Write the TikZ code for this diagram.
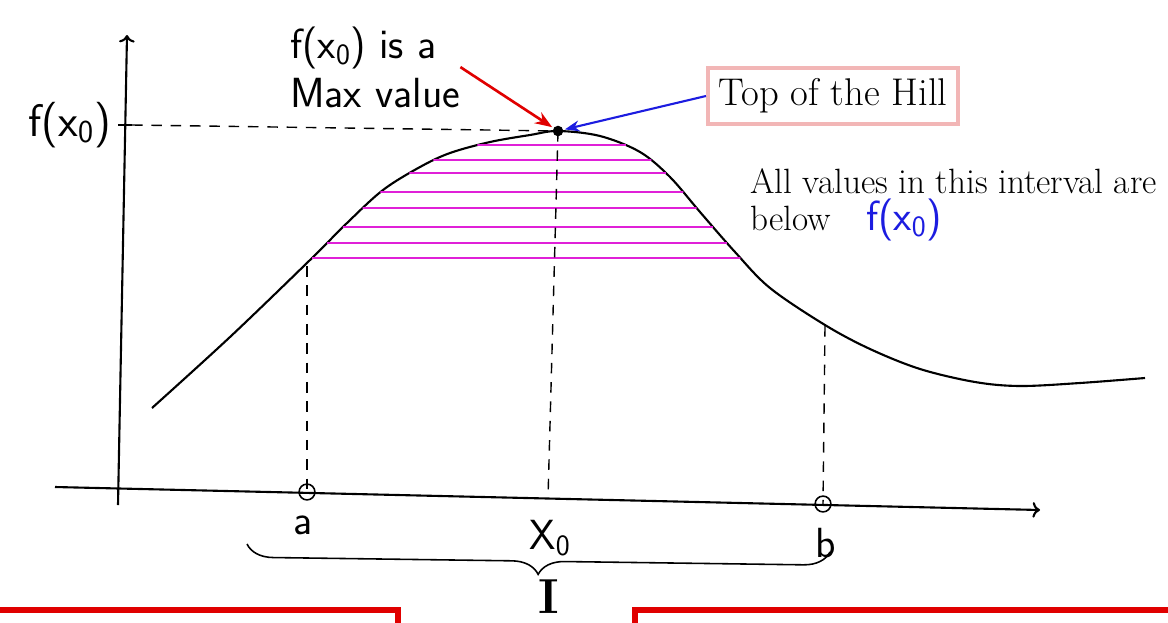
\documentclass[tikz,border=0pt]{standalone}
\usepackage{amsmath}
\usepackage{tikz}
\usepackage{xcolor}
\usetikzlibrary{arrows.meta, positioning, calc, intersections, decorations.pathreplacing}
\definecolor{HillMagenta}{HTML}{E020D8}
\definecolor{HillPink}{HTML}{F2B6B6}
\definecolor{HillRed}{HTML}{E00000}
\definecolor{HillBlue}{HTML}{1C1CE0}

\begin{document}
\begin{tikzpicture}[x=0.02cm, y=-0.02cm,
  curve/.style={line width=1.2pt},
  guide/.style={line width=0.8pt, dash pattern=on 6pt off 5pt},
  hatch/.style={HillMagenta, line width=1.1pt},
  hand/.style={font=\fontsize{20}{24}\selectfont\sffamily}]
\useasboundingbox (0,0) rectangle (1168,622);
\clip (0,0) rectangle (1168,622);
% Axes
\draw[->, line width=1.2pt] (118,505) -- (127,35);
\draw[->, line width=1.2pt] (55,487) -- (1040,510);
\node[hand, font=\fontsize{26}{30}\selectfont\sffamily, left] (fx) at (117,125) {f(x\textsubscript{0})};
% The hill
\coordinate (top) at (558,131);
\draw[curve, name path=hill] plot[smooth, tension=0.55] coordinates {
  (152,408) (230,337) (310,260) (347,223) (383,190) (420,167) (450,153)
  (490,142) (530,135) (558,131) (600,136) (640,152) (670,177) (700,212)
  (735,252) (770,288) (825,325) (870,349) (920,369) (975,382)
  (1020,386) (1080,383) (1145,378)};
% Hatching under f(x0)
\foreach \h in {145,160,173,192,208,227,243,258} {
  \path[name path=hl] (200,\h) -- (900,\h);
  \draw[hatch, name intersections={of=hill and hl, by={hl1,hl2}}] (hl1) -- (hl2);
}
% Guides
\draw[line width=0.9pt] (118,125) -- (132,125);
\draw[guide] (132,125) -- (top);
\coordinate (pa) at (307,492);
\coordinate (px) at (548,498);
\coordinate (pb) at (823,504);
\draw[guide] (307,266) -- (pa);
\draw[guide] (top) -- (px);
\draw[guide] (825,326) -- (pb);
\fill (top) circle (3pt);
\draw[line width=0.9pt] (pa) circle (4.5pt);
\draw[line width=0.9pt] (pb) circle (4.5pt);
% Points on the axis
\node[hand, font=\fontsize{24}{28}\selectfont\sffamily] (lbla) at (303,525) {a};
\node[hand, font=\fontsize{24}{28}\selectfont\sffamily] (lblx) at (550,538) {X\textsubscript{0}};
\node[hand, font=\fontsize{24}{28}\selectfont\sffamily] (lblb) at (826,543) {b};
% Interval brace
\coordinate (bl) at (247,544);
\coordinate (br) at (830,552);
\draw[decorate, decoration={brace, amplitude=15pt, mirror}, line width=0.9pt] (bl) -- (br);
\node[font=\fontsize{28}{28}\selectfont\bfseries, anchor=south, inner sep=1pt] (ivl) at (549,616) {I};
% Bottom boxes
\draw[HillRed, line width=3.5pt] (-5,610) -- (398,610) -- (398,640);
\draw[HillRed, line width=3.5pt] (635,640) -- (635,610) -- (1180,610);
% Annotations
\node[draw=HillPink, line width=2.5pt, inner sep=6pt, font=\fontsize{22}{26}\selectfont] (hill) at (833,96) {Top of the Hill};
\draw[HillBlue, line width=1.2pt, -{Stealth}, shorten >=4pt] (hill.west) -- (top);
\node[hand, font=\fontsize{24}{28}\selectfont\sffamily, align=left, anchor=south west, inner sep=0pt] (maxv) at (290,108) {f(x\textsubscript{0}) is a\\Max value};
\draw[HillRed, line width=1.5pt, -{Stealth}, shorten >=4pt] (maxv.east) -- (top);
\node[anchor=north west, align=left, inner sep=0pt, font=\fontsize{20}{21}\selectfont] (note) at (750,168)
  {All values in this interval are\\below\quad\textcolor{HillBlue}{\sffamily\fontsize{24}{21}\selectfont f(x\textsubscript{0})}};
\end{tikzpicture}
\end{document}
